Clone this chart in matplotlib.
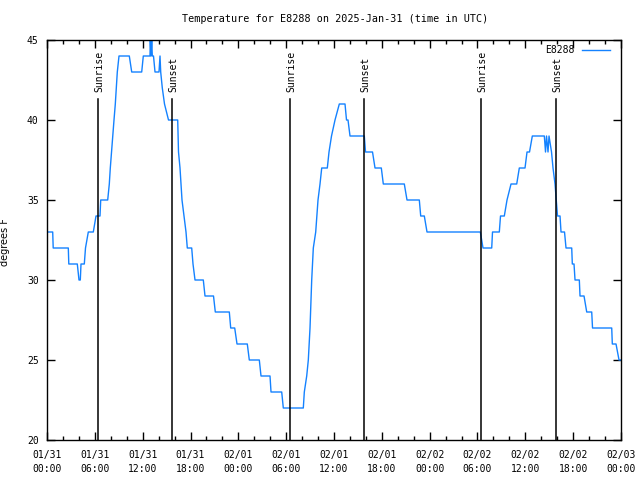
import matplotlib
matplotlib.use("Agg")
import matplotlib.pyplot as plt
from matplotlib.ticker import MultipleLocator

# hours since 2025-01-31 00:00 UTC
hours = [0.00, 0.715, 0.778, 2.672, 2.735, 3.801, 4.014, 4.177, 4.265, 4.679,
         4.829, 5.181, 5.808, 6.147, 6.648, 6.736, 7.614, 7.815, 7.940, 8.091,
         8.241, 8.404, 8.568, 8.693, 8.818, 9.032, 10.324, 10.625, 11.879, 12.080,
         12.920, 12.958, 13.046, 13.134, 13.209, 13.359, 13.548, 14.049, 14.175, 14.262,
         14.463, 14.739, 15.241, 16.395, 16.495, 16.684, 16.809, 16.934, 17.185, 17.436,
         17.599, 18.151, 18.314, 18.565, 19.606, 19.819, 20.886, 21.111, 22.868, 23.043,
         23.545, 23.834, 25.125, 25.376, 26.631, 26.844, 27.973, 28.099, 29.441, 29.641,
         32.150, 32.276, 32.577, 32.778, 32.991, 33.204, 33.405, 33.706, 33.994, 34.245,
         34.459, 35.161, 35.374, 35.688, 36.127, 36.666, 37.381, 37.569, 37.757, 38.008,
         39.802, 39.953, 40.831, 41.144, 41.935, 42.185, 44.819, 45.158, 46.701, 46.876,
         47.328, 47.667, 54.353, 54.691, 55.783, 55.883, 56.736, 56.886, 57.363, 57.702,
         58.204, 58.919, 59.245, 59.960, 60.211, 60.525, 60.876, 62.381, 62.532, 62.657,
         62.845, 62.971, 63.284, 63.472, 63.723, 63.886, 64.037, 64.351, 64.476, 64.915,
         65.103, 65.818, 65.894, 66.107, 66.232, 66.772, 66.860, 67.361, 67.700, 68.327,
         68.428, 70.836, 70.911, 71.375, 71.752, 72.0]
temps = [33, 33, 32, 32, 31, 31, 30, 30, 31, 31,
         32, 33, 33, 34, 34, 35, 35, 36, 37, 38,
         39, 40, 41, 42, 43, 44, 44, 43, 43, 44,
         44, 45, 44, 45, 44, 44, 43, 43, 44, 43,
         42, 41, 40, 40, 38, 37, 36, 35, 34, 33,
         32, 32, 31, 30, 30, 29, 29, 28, 28, 27,
         27, 26, 26, 25, 25, 24, 24, 23, 23, 22,
         22, 23, 24, 25, 27, 30, 32, 33, 35, 36,
         37, 37, 38, 39, 40, 41, 41, 40, 40, 39,
         39, 38, 38, 37, 37, 36, 36, 35, 35, 34,
         34, 33, 33, 32, 32, 33, 33, 34, 34, 35,
         36, 36, 37, 37, 38, 38, 39, 39, 38, 39,
         38, 39, 38, 37, 36, 35, 34, 34, 33, 33,
         32, 32, 31, 31, 30, 30, 29, 29, 28, 28,
         27, 27, 26, 26, 25, 25]

sunrise_hours = [6.43, 30.52, 54.48]
sunset_hours = [15.72, 39.76, 63.89]

xtick_hours = [0, 6, 12, 18, 24, 30, 36, 42, 48, 54, 60, 66, 72]
xtick_labels = ["01/31\n00:00", "01/31\n06:00", "01/31\n12:00", "01/31\n18:00",
                "02/01\n00:00", "02/01\n06:00", "02/01\n12:00", "02/01\n18:00",
                "02/02\n00:00", "02/02\n06:00", "02/02\n12:00", "02/02\n18:00",
                "02/03\n00:00"]
ytick_vals = [20, 25, 30, 35, 40, 45]

MONO = "DejaVu Sans Mono"
FS = 7

fig = plt.figure(figsize=(6.4, 4.8), dpi=100)
ax = fig.add_axes([47/640, 40/480, 574/640, 400/480])

line_color = "#1482ff"
ax.plot(hours, temps, color=line_color, lw=1.0, label="E8288")

ax.set_xlim(0, 72)
ax.set_ylim(20, 45)

line_top = (440 - 99) / 400
label_y = 45 - (92 - 40) / 16
for h in sunrise_hours:
    ax.axvline(h, ymin=0, ymax=line_top, color="black", lw=1.1)
    ax.text(h + 0.12, label_y, "Sunrise", rotation=90, ha="center", va="bottom",
            fontsize=FS, family=MONO)
for h in sunset_hours:
    ax.axvline(h, ymin=0, ymax=line_top, color="black", lw=1.1)
    ax.text(h + 0.12, label_y, "Sunset", rotation=90, ha="center", va="bottom",
            fontsize=FS, family=MONO)

ax.set_xticks(xtick_hours)
ax.set_xticklabels(xtick_labels, family=MONO, fontsize=FS, linespacing=1.55)
ax.xaxis.set_minor_locator(MultipleLocator(2))
ax.set_yticks(ytick_vals)
ax.set_yticklabels([str(v) for v in ytick_vals], family=MONO, fontsize=FS)

ax.tick_params(axis="both", which="major", direction="in", length=6, width=1,
               top=True, right=True)
ax.tick_params(axis="both", which="minor", direction="in", length=3, width=1,
               top=True, right=True)
ax.tick_params(axis="x", which="major", pad=7)
ax.tick_params(axis="y", which="major", pad=6)
for s in ax.spines.values():
    s.set_linewidth(1.0)

ax.set_ylabel("degrees F", fontsize=FS, family="DejaVu Sans")
ax.yaxis.set_label_coords(-(47 - 10) / 574, 0.495)

fig.text(335/640, 1 - 19/480, "Temperature for E8288 on 2025-Jan-31 (time in UTC)",
         ha="center", va="center", fontsize=7.3, family=MONO)

ax.legend(loc="upper right", bbox_to_anchor=(1 - 11/574, 1 - 5/400),
          frameon=False, markerfirst=False, borderaxespad=0, borderpad=0,
          handlelength=2.9, handletextpad=0.8, prop={"family": MONO, "size": FS})

fig.savefig("out.png", dpi=100)
